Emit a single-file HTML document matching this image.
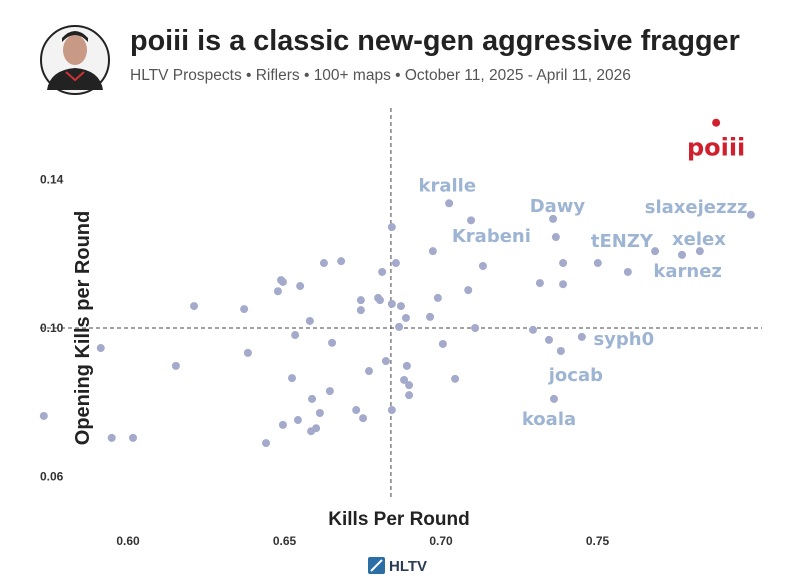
<!DOCTYPE html>
<html><head><meta charset="utf-8"><style>
body{margin:0;background:#fff;font-family:"Liberation Sans",sans-serif}
#wrap{position:relative;width:800px;height:586px;overflow:hidden}
</style></head><body>
<div id="wrap">
<svg id="chart" width="800" height="586">
  <g>
    <circle cx="75" cy="60" r="34" fill="#f3f3f3" stroke="#222" stroke-width="2"/>
    <ellipse cx="75" cy="50" rx="12" ry="15" fill="#c89a85"/>
    <path d="M62 42 Q75 28 88 42 L88 38 Q75 24 62 38Z" fill="#222"/>
    <path d="M47 90 Q50 70 75 68 Q100 70 103 90 Z" fill="#222"/>
    <path d="M66 72 L75 80 L84 72" stroke="#c33" stroke-width="2" fill="none"/>
  </g>
  <text x="130" y="50" font-size="28.8" font-weight="bold" fill="#222">poiii is a classic new-gen aggressive fragger</text>
  <text x="130" y="80" font-size="15.5" fill="#555">HLTV Prospects • Riflers • 100+ maps • October 11, 2025 -  April 11, 2026</text>
  <g id="plot"></g>
  <text x="399" y="525" font-size="19" font-weight="bold" fill="#222" text-anchor="middle">Kills Per Round</text>
  <text transform="translate(89,328) rotate(-90)" font-size="20" font-weight="bold" fill="#222" text-anchor="middle">Opening Kills per Round</text>
  <g>
    <rect x="368" y="557" width="17" height="17" rx="2" fill="#2b6ea6"/>
    <path d="M371 571 L382 560" stroke="#fff" stroke-width="2"/>
    <text x="389" y="571" font-size="15" font-weight="bold" fill="#2b3c55">HLTV</text>
  </g>
</svg>
</div>
<script>
const xVals=[0.5731,0.5913,0.5948,0.6016,0.6153,0.6211,0.6371,0.6383,0.6441,0.6479,0.6489,0.6495,0.6495,0.6524,0.6543,0.6550,0.6581,0.6534,0.6588,0.6585,0.6601,0.6613,0.6626,0.6645,0.6652,0.6681,0.6729,0.6744,0.6744,0.6751,0.6770,0.6799,0.6805,0.6812,0.6824,0.6843,0.6843,0.6843,0.6856,0.6866,0.6872,0.6882,0.6888,0.6891,0.6898,0.6898,0.6965,0.6974,0.6990,0.7006,0.7026,0.7045,0.7087,0.7096,0.7109,0.7134,0.7294,0.7316,0.7345,0.7358,0.7367,0.7383,0.7390,0.7390,0.7361,0.7450,0.7501,0.7597,0.7684,0.7770,0.7827,0.7990];
const yVals=[0.0763,0.0946,0.0704,0.0704,0.0898,0.1059,0.1051,0.0933,0.0690,0.1099,0.1129,0.1124,0.0739,0.0865,0.0752,0.1113,0.1019,0.0981,0.0809,0.0722,0.0730,0.0771,0.1175,0.0830,0.0960,0.1180,0.0779,0.1075,0.1048,0.0757,0.0884,0.1081,0.1075,0.1151,0.0911,0.1272,0.1065,0.0779,0.1175,0.1003,0.1059,0.0860,0.1027,0.0898,0.0846,0.0819,0.1030,0.1207,0.1081,0.0957,0.1336,0.0863,0.1102,0.1290,0.1000,0.1167,0.0995,0.1121,0.0968,0.1294,0.1245,0.0938,0.1175,0.1118,0.0809,0.0976,0.1175,0.1151,0.1207,0.1197,0.1207,0.1305];
const labelNames=["kralle","Dawy","Krabeni","tENZY","xelex","slaxejezzz","karnez","syph0","jocab","koala"];
const labelX=[0.7020,0.7372,0.7161,0.7578,0.7824,0.7815,0.7788,0.7584,0.7431,0.7345];
const labelY=[0.1384,0.1329,0.1248,0.1234,0.1240,0.1326,0.1154,0.0971,0.0874,0.0755];
const hiX=[0.7879];const hiY=[0.1553];
const xTicks=[0.60,0.65,0.70,0.75];const yTicks=[0.06,0.10,0.14];
const xRef=[0.6840];const yRef=[0.10];
const NS="http://www.w3.org/2000/svg";
const sx=v=>128+(v-0.60)*3130;
const sy=v=>328-(v-0.10)*3712;
const plot=document.getElementById('plot');
function mk(t,a){const e=document.createElementNS(NS,t);for(const k in a)e.setAttribute(k,a[k]);plot.appendChild(e);return e;}
xRef.forEach(v=>{const l=mk('line',{x1:sx(v),x2:sx(v),y1:108,y2:500,stroke:'#444','stroke-width':1,'stroke-dasharray':'4,3'});

});
yRef.forEach(v=>{const l=mk('line',{x1:40,x2:762,y1:sy(v),y2:sy(v),stroke:'#444','stroke-width':1,'stroke-dasharray':'4,3'});

});
xTicks.forEach(v=>{const t=mk('text',{x:sx(v),y:545,'font-size':12,'font-weight':'bold',fill:'#333','text-anchor':'middle'});t.textContent=v.toFixed(2);

});
yTicks.forEach(v=>{const t=mk('text',{x:40,y:sy(v)+4,'font-size':12,'font-weight':'bold',fill:'#333'});t.textContent=v.toFixed(2);

});
xVals.forEach((v,i)=>{const c=mk('circle',{cx:sx(v),cy:sy(yVals[i]),r:4,fill:'#a3aacb'});

});
labelNames.forEach((n,i)=>{const t=mk('text',{x:sx(labelX[i]),y:sy(labelY[i])+6,'font-size':18,'font-weight':'bold',fill:'#9db4d3','text-anchor':'middle','font-family':'"DejaVu Sans",sans-serif'});t.textContent=n;

});
hiX.forEach((v,i)=>{const c=mk('circle',{cx:sx(v),cy:sy(hiY[i]),r:4,fill:'#d0202e'});


const t=mk('text',{x:sx(v),y:sy(hiY[i])+33,'font-size':24,'font-weight':'bold',fill:'#d0202e','text-anchor':'middle','font-family':'"DejaVu Sans",sans-serif'});t.textContent='poiii';

});
</script>
</body></html>
